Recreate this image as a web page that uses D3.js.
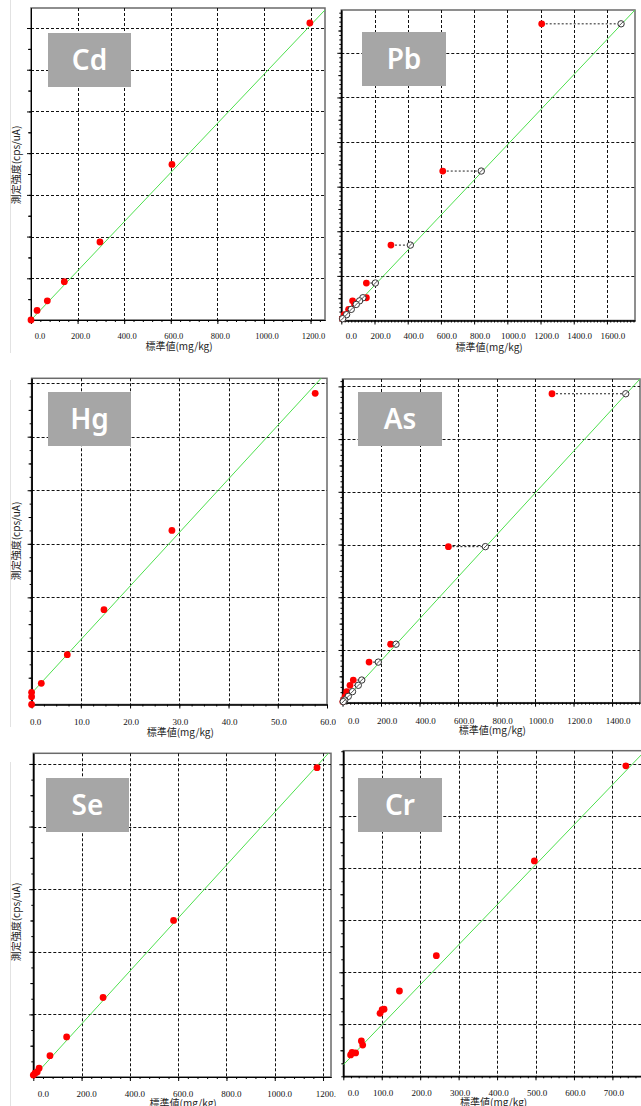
<!DOCTYPE html>
<meta charset="utf-8">
<script src="https://cdn.jsdelivr.net/npm/d3@7"></script>
<style>
  body { margin: 0; background: #fff; }
  svg { display: block; }
  .tick-label { font-family: "Liberation Serif", serif; fill: #111; }
  .axis-title { font-family: "Noto Sans CJK JP", sans-serif; font-size: 10px; fill: #222; }
  .element { font-family: "Noto Sans", sans-serif; font-size: 28px; fill: #fff; font-weight: 600; }
</style>
<div id="chart"></div>
<script>
// panels in reading order
const elements = ["Cd", "Pb", "Hg", "As", "Se", "Cr"];

// x tick values (標準値, mg/kg)
const cdTicks = [0, 200, 400, 600, 800, 1000, 1200];
const pbTicks = [0, 200, 400, 600, 800, 1000, 1200, 1400, 1600];
const hgTicks = [0, 10, 20, 30, 40, 50, 60];
const asTicks = [0, 200, 400, 600, 800, 1000, 1200, 1400];
const seTicks = [0, 200, 400, 600, 800, 1000, 1200];
const crTicks = [0, 100, 200, 300, 400, 500, 600, 700];

// standard value vs measured intensity (grid units)
const cdStd = [0, 26, 70, 143, 296, 605, 1197];
const cdInt = [0, 0.23, 0.46, 0.92, 1.87, 3.73, 7.12];

const hgStd = [0, 0, 0, 1.97, 7.25, 14.7, 28.5, 57.6];
const hgInt = [0, 0.146, 0.228, 0.395, 0.93, 1.77, 3.25, 5.81];

const seStd = [0, 7, 16, 24, 69, 138, 289, 581, 1175];
const seInt = [0.03, 0.06, 0.08, 0.14, 0.34, 0.64, 1.27, 2.5, 4.94];

const crStd = [19, 22.7, 32, 47, 50.5, 95.6, 101, 106, 146, 242, 497, 735];
const crInt = [0.41, 0.46, 0.45, 0.68, 0.6, 1.21, 1.28, 1.29, 1.64, 2.32, 4.14, 5.97];

// Pb / As: red = measured standard value, open = corrected value at same intensity
const pbStd  = [1207, 611, 299, 151, 151, 68, 80, 44, 18, 6];
const pbCorr = [1685, 843, 416, 205, 130, 110, 90, 60, 32, 8];
const pbInt  = [6.65, 3.35, 1.69, 0.84, 0.51, 0.44, 0.36, 0.25, 0.13, 0.04];

const asStd  = [1088, 550, 250, 138, 56, 39, 22, 14, 5, 2];
const asCorr = [1471, 742, 278, 186, 100, 82, 52, 30, 12, 4];
const asInt  = [5.86, 2.96, 1.11, 0.77, 0.43, 0.33, 0.21, 0.12, 0.05, 0.02];

// calibration lines [intercept, slope]
const cdFit = [0, 0.00589];
const pbFit = [0, 0.003935];
const hgFit = [0.21, 0.1];
const asFit = [0, 0.003975];
const seFit = [0, 0.00423];
const crFit = [0.22, 0.00769];

const series = {
  Cd: { ticks: cdTicks, std: cdStd, int: cdInt, fit: cdFit },
  Pb: { ticks: pbTicks, std: pbStd, int: pbInt, corr: pbCorr, fit: pbFit },
  Hg: { ticks: hgTicks, std: hgStd, int: hgInt, fit: hgFit },
  As: { ticks: asTicks, std: asStd, int: asInt, corr: asCorr, fit: asFit },
  Se: { ticks: seTicks, std: seStd, int: seInt, fit: seFit },
  Cr: { ticks: crTicks, std: crStd, int: crInt, fit: crFit }
};

// screenshot layout of each panel
const layout = {
  Cd: { clip: [0, 0, 336, 362], frame: [31, 8, 325, 320], xMax: 1262, yMax: 7.48, xSub: 5, ySub: 2,
        box: [48, 33, 83, 54], fs: 8.5, labDx: 3, firstDx: 9, labDy: 18.5, titleDy: 30, yTitle: 165, side: [0, 353] },
  Pb: { clip: [336, 0, 641, 362], frame: [341.3, 10, 635, 320.5], xMax: 1769, yMax: 6.96, xSub: 10, ySub: 10,
        box: [362, 32, 84, 54], fs: 9, labDx: 6, firstDx: 10, labDy: 18.5, titleDy: 30 },
  Hg: { clip: [0, 362, 336, 742], frame: [31.6, 378.3, 327, 704.5], xMax: 60, yMax: 6.09, xSub: 4, ySub: 4,
        box: [48, 392, 83, 54], fs: 9, labDx: 1, firstDx: 4, labDy: 20, titleDy: 31.5, yTitle: 541, side: [380, 727] },
  As: { clip: [336, 362, 641, 742], frame: [342.5, 379, 640, 702.7], xMax: 1545, yMax: 6.14, xSub: 10, ySub: 10,
        box: [358, 392, 84, 54], fs: 9, labDx: 6, firstDx: 11, labDy: 21, titleDy: 31.5 },
  Se: { clip: [0, 742, 336, 1106], frame: [33.3, 753.3, 331, 1077], xMax: 1233, yMax: 5.17, xSub: 5, ySub: 4,
        box: [46, 778, 83, 54], fs: 9, labDx: 5, firstDx: 10, labDy: 19.5, titleDy: 30, yTitle: 922, side: [762, 1106] },
  Cr: { clip: [336, 742, 641, 1106], frame: [343.3, 750.7, 642, 1076.3], xMax: 777, yMax: 6.26, xSub: 5, ySub: 4,
        box: [358, 778, 84, 54], fs: 9, labDx: 1.5, firstDx: 10, labDy: 19.5, titleDy: 30 }
};

const W = 641, H = 1106;
const svg = d3.select("#chart").append("svg").attr("width", W).attr("height", H);
const defs = svg.append("defs");
const fmt = d3.format(".1f");

elements.forEach(name => drawPanel(name, series[name], layout[name]));

function drawPanel(name, d, L) {
  const [fx0, fy0, fx1, fy1] = L.frame;
  const [cx0, cy0, cx1, cy1] = L.clip;

  defs.append("clipPath").attr("id", "clip-" + name)
    .append("rect").attr("x", cx0).attr("y", cy0).attr("width", cx1 - cx0).attr("height", cy1 - cy0);
  defs.append("clipPath").attr("id", "plot-" + name)
    .append("rect").attr("x", fx0).attr("y", fy0).attr("width", fx1 - fx0).attr("height", fy1 - fy0);

  const g = svg.append("g").attr("clip-path", `url(#clip-${name})`);

  const x = d3.scaleLinear().domain([0, L.xMax]).range([fx0, fx1]);
  const y = d3.scaleLinear().domain([0, L.yMax]).range([fy1, fy0]);

  // faint edge of the screenshot window
  if (L.side) {
    g.append("line").attr("x1", 10.5).attr("x2", 10.5).attr("y1", L.side[0]).attr("y2", L.side[1])
      .attr("stroke", "#e2e2e2");
  }

  // frame
  g.append("rect").attr("x", fx0).attr("y", fy0).attr("width", fx1 - fx0).attr("height", fy1 - fy0)
    .attr("fill", "#fff").attr("stroke", "#6a6a6a").attr("stroke-width", 1.5);

  // grid
  const yMajor = d3.range(1, Math.floor(L.yMax) + 1);
  const xMajor = d.ticks.filter(t => t > 0 && x(t) < fx1 - 1);
  const grid = g.append("g").attr("stroke", "#111").attr("stroke-dasharray", "3,2");
  grid.selectAll(".gx").data(xMajor).join("line")
    .attr("x1", t => Math.round(x(t)) + 0.5).attr("x2", t => Math.round(x(t)) + 0.5)
    .attr("y1", fy0).attr("y2", fy1);
  grid.selectAll(".gy").data(yMajor).join("line")
    .attr("x1", fx0).attr("x2", fx1)
    .attr("y1", t => Math.round(y(t)) + 0.5).attr("y2", t => Math.round(y(t)) + 0.5);

  // axes
  const step = d.ticks[1] - d.ticks[0];
  const xMinor = d3.range(0, L.xMax, step / L.xSub);
  const yMinor = d3.range(0, L.yMax, 1 / L.ySub);
  const yHalf = d3.range(0.5, L.yMax, 1);

  const xAxisG = g.append("g").attr("transform", `translate(0,${fy1})`);
  xAxisG.append("g").call(d3.axisBottom(x).tickValues(xMinor).tickSize(2).tickSizeOuter(0).tickFormat(""));
  xAxisG.append("g").call(d3.axisBottom(x).tickValues(d.ticks).tickSize(4).tickSizeOuter(0).tickFormat(""));

  const yAxisG = g.append("g").attr("transform", `translate(${fx0},0)`);
  yAxisG.append("g").call(d3.axisLeft(y).tickValues(yMinor).tickSize(2).tickSizeOuter(0).tickFormat(""));
  yAxisG.append("g").call(d3.axisLeft(y).tickValues(yHalf).tickSize(3).tickSizeOuter(0).tickFormat(""));
  yAxisG.append("g").call(d3.axisLeft(y).tickValues(yMajor).tickSize(4).tickSizeOuter(0).tickFormat(""));

  g.selectAll(".domain").attr("stroke", "#000");
  g.selectAll(".tick line").attr("stroke", "#000");

  // tick labels
  g.append("g").selectAll("text").data(d.ticks).join("text")
    .attr("class", "tick-label")
    .attr("font-size", L.fs + "px")
    .attr("text-anchor", "middle")
    .attr("x", (t, i) => i === 0 ? fx0 + L.firstDx : x(t) + L.labDx)
    .attr("y", fy1 + L.labDy)
    .text(t => fmt(t));

  // axis titles
  g.append("text").attr("class", "axis-title").attr("text-anchor", "middle")
    .attr("x", (fx0 + fx1) / 2 + 1).attr("y", fy1 + L.titleDy)
    .text("標準値(mg/kg)");
  if (L.yTitle) {
    g.append("text").attr("class", "axis-title").attr("text-anchor", "middle")
      .attr("transform", `translate(20,${L.yTitle}) rotate(-90)`)
      .text("測定強度(cps/uA)");
  }

  // calibration line, clipped to the plot frame
  g.append("g").attr("clip-path", `url(#plot-${name})`).append("line")
    .attr("x1", x(0)).attr("y1", y(d.fit[0]))
    .attr("x2", x(L.xMax)).attr("y2", y(d.fit[0] + d.fit[1] * L.xMax))
    .attr("stroke", "#4ee04e").attr("stroke-width", 1);

  const pts = d.std.map((s, i) => ({ s, v: d.int[i], c: d.corr ? d.corr[i] : null }));

  if (d.corr) {
    g.append("g").selectAll("line").data(pts).join("line")
      .attr("x1", p => x(p.s)).attr("x2", p => x(p.c))
      .attr("y1", p => y(p.v)).attr("y2", p => y(p.v))
      .attr("stroke", "#222").attr("stroke-dasharray", "2,2");
  }

  g.append("g").selectAll("circle").data(pts).join("circle")
    .attr("cx", p => x(p.s)).attr("cy", p => y(p.v)).attr("r", 3.4)
    .attr("fill", "#ff0000");

  if (d.corr) {
    const open = g.append("g").selectAll("g").data(pts).join("g")
      .attr("transform", p => `translate(${x(p.c)},${y(p.v)})`);
    open.append("circle").attr("r", 3.2).attr("fill", "#fff").attr("stroke", "#333");
    open.append("line").attr("x1", -2).attr("y1", 2).attr("x2", 2).attr("y2", -2).attr("stroke", "#555");
  }

  // element label
  const [bx, by, bw, bh] = L.box;
  g.append("rect").attr("x", bx).attr("y", by).attr("width", bw).attr("height", bh).attr("fill", "#a6a6a6");
  g.append("text").attr("class", "element").attr("text-anchor", "middle")
    .attr("x", bx + bw / 2).attr("y", by + bh / 2 + 10)
    .text(name);
}
</script>
